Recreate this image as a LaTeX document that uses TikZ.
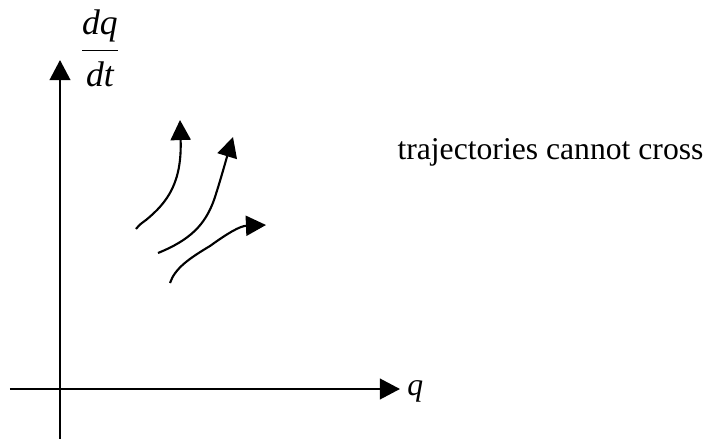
\documentclass[tikz,border=0pt,12pt]{standalone}
\usepackage{fontspec}
\setmainfont{Liberation Serif}
\usepackage{tikz}
\usetikzlibrary{arrows.meta,positioning}

\begin{document}
\begin{tikzpicture}[
 x=0.379pt,y=-0.379pt,
 axis/.style={line width=0.8pt,-{Triangle[length=7.6pt,width=7.8pt]}},
 traj/.style={line width=0.8pt,-{Triangle[length=7.6pt,width=7.6pt]}},
 lbl/.style={inner sep=0pt,font=\fontsize{12}{14}\selectfont}]
\useasboundingbox (0,0) rectangle (709,439);
% axes
\coordinate (qstart) at (10,389);
\coordinate (qend) at (400,389);
\coordinate (pstart) at (60,439);
\coordinate (pend) at (60,60);
\draw[axis] (qstart) -- (qend);
\draw[axis] (pstart) -- (pend);
\node[lbl,right=2.6pt of qend,yshift=-1pt] (qlabel) {\itshape q};
\node[lbl,font=\fontsize{13.5}{16}\selectfont] (plabel) at (100,48)
  {$\displaystyle\frac{\textit{dq}}{\textit{dt}}$};
% trajectories
\coordinate (a0) at (136,229);
\coordinate (a1) at (180,120);
\coordinate (b0) at (158,253);
\coordinate (b1) at (214,200);
\coordinate (b2) at (233,137);
\coordinate (c0) at (170,283);
\coordinate (c1) at (210,246);
\coordinate (c2) at (266,225);
\draw[traj] (a0) .. controls (140,224) and (142,223) .. (146,220)
  .. controls (168,202) and (182,182) .. (a1);
\draw[traj] (b0) .. controls (190,240) and (205,225) .. (b1)
  .. controls (220,182) and (226,160) .. (b2);
\draw[traj] (c0) .. controls (175,268) and (190,258) .. (c1)
  .. controls (228,233) and (240,226) .. (c2);
\node[lbl,anchor=west] (note) at (397,152) {trajectories cannot cross};
\end{tikzpicture}
\end{document}
